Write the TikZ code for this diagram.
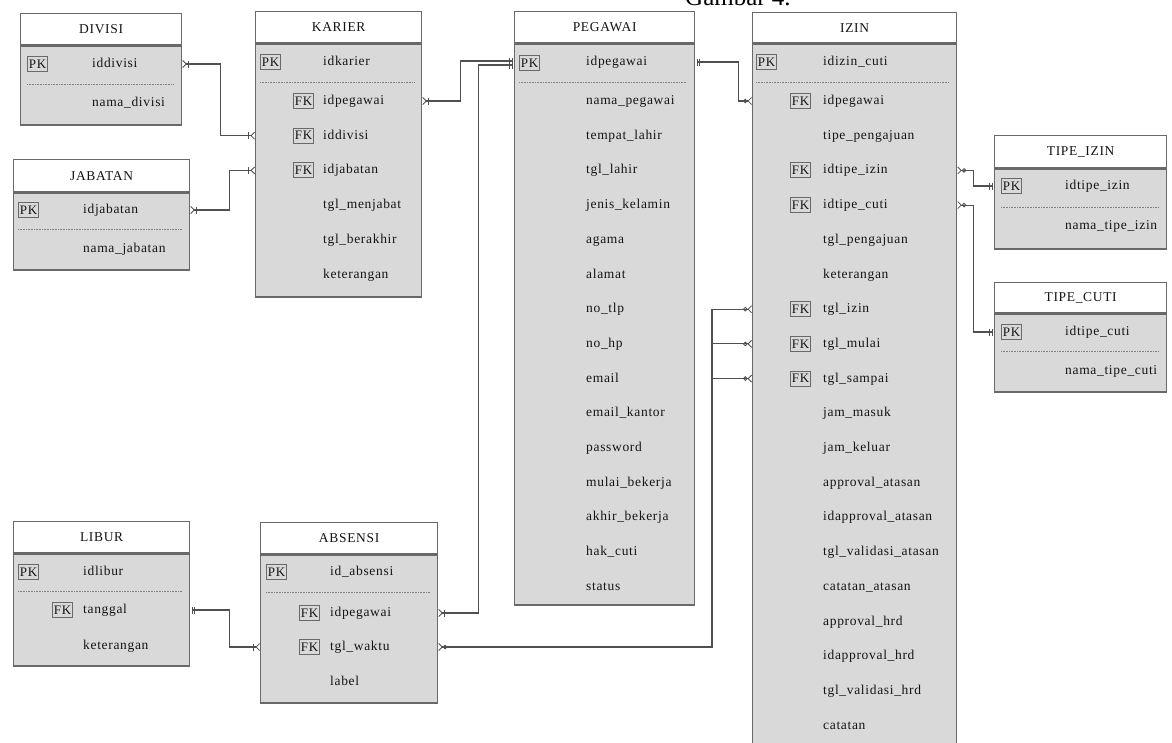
\documentclass[tikz,border=0pt]{standalone}
\usepackage{fontspec}
\setmainfont{Liberation Serif}[LetterSpace=5]
\newfontfamily\titlefont{Liberation Serif}
\usepackage{tikz}
\usetikzlibrary{arrows.meta,calc,positioning}
\definecolor{BoxGray}{RGB}{105,105,105}
\definecolor{BodyGray}{RGB}{217,217,217}
\definecolor{LineGray}{RGB}{80,80,80}
\definecolor{InkGray}{RGB}{20,20,20}
\catcode`\_=12

\tikzset{
  tblhead/.style={draw=BoxGray,line width=1.3pt,fill=white,anchor=north west,inner sep=0,
    text=InkGray,font=\fontsize{13.5}{15}\selectfont},
  tblbody/.style={draw=BoxGray,line width=1.3pt,fill=BodyGray,anchor=north west,inner sep=0},
  attr/.style={anchor=west,inner sep=0,text=InkGray,font=\fontsize{13.5}{15}\selectfont,
    text height=9.5pt,text depth=2.5pt},
  keybox/.style={draw=BoxGray,line width=.9pt,anchor=west,inner sep=1.5pt,minimum height=15pt,
    text=InkGray,font=\fontsize{13}{15}\selectfont},
  sepline/.style={draw=gray,line width=.5pt,dash pattern=on .8pt off .8pt},
  relline/.style={draw=LineGray,line width=1.1pt},
  Crow/.tip={Straight Barb[reversed,length=3.5pt,width=7pt,line width=.8pt]},
  One/.tip={Bar[width=7pt,line width=.8pt,sep=1.5pt]},
  Zero/.tip={Circle[open,length=4.5pt,width=4.5pt,line width=.8pt]},
  Dot/.tip={Circle[length=4.5pt,width=4.5pt]},
}

\begin{document}
\begin{tikzpicture}[x=1pt,y=-1pt]
  \useasboundingbox (0,0) rectangle (1172,742);
  \fill[white] (0,0) rectangle (1172,742);
  \node[font=\titlefont\fontsize{25}{27}\selectfont,anchor=base west,inner sep=0] (title) at (685,5) {Gambar 4.};

  % DIVISI
  \node[tblhead,minimum width=161,minimum height=31] (divisi) at (20,13) {DIVISI};
  \node[tblbody,minimum width=161,minimum height=79] (divisi-body) at (divisi.south west) {};
  \node[keybox] (divisi-pk) at (27,64) {PK};
  \node[attr] (divisi-iddivisi) at (92,64) {iddivisi};
  \draw[sepline] (27,84) -- (174,84);
  \node[attr] (divisi-nama_divisi) at (92,103) {nama_divisi};

  % JABATAN
  \node[tblhead,minimum width=176,minimum height=32] (jabatan) at (13,159) {JABATAN};
  \node[tblbody,minimum width=176,minimum height=77] (jabatan-body) at (jabatan.south west) {};
  \node[keybox] (jabatan-pk) at (18,210) {PK};
  \node[attr] (jabatan-idjabatan) at (83,210) {idjabatan};
  \draw[sepline] (18,229) -- (182,229);
  \node[attr] (jabatan-nama_jabatan) at (83,249) {nama_jabatan};

  % KARIER
  \node[tblhead,minimum width=166,minimum height=31] (karier) at (255,11) {KARIER};
  \node[tblbody,minimum width=166,minimum height=253] (karier-body) at (karier.south west) {};
  \node[keybox] (karier-pk) at (260,62) {PK};
  \node[attr] (karier-idkarier) at (323,62) {idkarier};
  \draw[sepline] (260,82) -- (414,82);
  \foreach \f [count=\i from 0] in {idpegawai,iddivisi,idjabatan,tgl_menjabat,tgl_berakhir,keterangan}
    \node[attr] (karier-\f) at (323,{101+34.7*\i}) {\f};
  \foreach \i in {0,1,2}
    \node[keybox] (karier-fk\i) at (293,{101+34.7*\i}) {FK};

  % PEGAWAI
  \node[tblhead,minimum width=180,minimum height=31] (pegawai) at (514,11) {PEGAWAI};
  \node[tblbody,minimum width=180,minimum height=561] (pegawai-body) at (pegawai.south west) {};
  \node[keybox] (pegawai-pk) at (519,63) {PK};
  \node[attr] (pegawai-idpegawai) at (586,62) {idpegawai};
  \draw[sepline] (519,82) -- (687,82);
  \foreach \f [count=\i from 0] in {nama_pegawai,tempat_lahir,tgl_lahir,jenis_kelamin,agama,alamat,
      no_tlp,no_hp,email,email_kantor,password,mulai_bekerja,akhir_bekerja,hak_cuti,status}
    \node[attr] (pegawai-\f) at (586,{101+34.7*\i}) {\f};

  % IZIN
  \node[tblhead,minimum width=204,minimum height=30] (izin) at (752,12) {IZIN};
  \node[tblbody,minimum width=204,minimum height=712] (izin-body) at (izin.south west) {};
  \node[keybox] (izin-pk) at (756,62) {PK};
  \node[attr] (izin-idizin_cuti) at (823,62) {idizin_cuti};
  \draw[sepline] (756,82) -- (949,82);
  \foreach \f [count=\i from 0] in {idpegawai,tipe_pengajuan,idtipe_izin,idtipe_cuti,tgl_pengajuan,
      keterangan,tgl_izin,tgl_mulai,tgl_sampai,jam_masuk,jam_keluar,approval_atasan,
      idapproval_atasan,tgl_validasi_atasan,catatan_atasan,approval_hrd,idapproval_hrd,
      tgl_validasi_hrd,catatan}
    \node[attr] (izin-\f) at (823,{101+34.7*\i}) {\f};
  \foreach \i in {0,2,3,6,7,8}
    \node[keybox] (izin-fk\i) at (790,{101+34.7*\i}) {FK};

  % TIPE_IZIN
  \node[tblhead,minimum width=172,minimum height=32] (tizin) at (994,135) {TIPE_IZIN};
  \node[tblbody,minimum width=172,minimum height=80] (tizin-body) at (tizin.south west) {};
  \node[keybox] (tizin-pk) at (1001,186) {PK};
  \node[attr] (tizin-idtipe_izin) at (1065,186) {idtipe_izin};
  \draw[sepline] (1001,207) -- (1159,207);
  \node[attr] (tizin-nama_tipe_izin) at (1065,226) {nama_tipe_izin};

  % TIPE_CUTI
  \node[tblhead,minimum width=172,minimum height=30] (tcuti) at (994,282) {TIPE_CUTI};
  \node[tblbody,minimum width=172,minimum height=78] (tcuti-body) at (tcuti.south west) {};
  \node[keybox] (tcuti-pk) at (1001,332) {PK};
  \node[attr] (tcuti-idtipe_cuti) at (1065,332) {idtipe_cuti};
  \draw[sepline] (1001,351) -- (1159,351);
  \node[attr] (tcuti-nama_tipe_cuti) at (1065,371) {nama_tipe_cuti};

  % LIBUR
  \node[tblhead,minimum width=176,minimum height=31] (libur) at (13,521) {LIBUR};
  \node[tblbody,minimum width=176,minimum height=112] (libur-body) at (libur.south west) {};
  \node[keybox] (libur-pk) at (18,572) {PK};
  \node[attr] (libur-idlibur) at (83,572) {idlibur};
  \draw[sepline] (18,591) -- (182,591);
  \node[keybox] (libur-fk) at (52,610) {FK};
  \node[attr] (libur-tanggal) at (83,610) {tanggal};
  \node[attr] (libur-keterangan) at (83,646) {keterangan};

  % ABSENSI
  \node[tblhead,minimum width=177,minimum height=31] (absensi) at (260,522) {ABSENSI};
  \node[tblbody,minimum width=177,minimum height=148] (absensi-body) at (absensi.south west) {};
  \node[keybox] (absensi-pk) at (266,572) {PK};
  \node[attr] (absensi-id_absensi) at (330,572) {id_absensi};
  \draw[sepline] (266,592) -- (430,592);
  \node[keybox] (absensi-fk0) at (299,613) {FK};
  \node[keybox] (absensi-fk1) at (299,647) {FK};
  \node[attr] (absensi-idpegawai) at (330,613) {idpegawai};
  \node[attr] (absensi-tgl_waktu) at (330,647) {tgl_waktu};
  \node[attr] (absensi-label) at (330,682) {label};

  % relasi
  \coordinate (tglbus) at (712,310);
  \draw[relline,{Crow[]One[]}-{One[]Crow[]}] (divisi-body.east |- divisi-iddivisi) -- ++(38,0)
    |- (karier-body.west |- karier-iddivisi);
  \draw[relline,{Crow[]One[]}-{One[]Crow[]}] (jabatan-body.east |- jabatan-idjabatan) -- ++(39,0)
    |- (karier-body.west |- karier-idjabatan);
  \draw[relline,{Crow[]One[]}-{One[]One[]}] (karier-body.east |- karier-idpegawai) -- ++(38,0)
    |- ([yshift=2pt]pegawai-body.west |- pegawai-pk);
  \draw[relline,{Crow[]One[]}-{One[]One[]}] (absensi-body.east |- absensi-idpegawai) -- ++(40,0)
    |- ([yshift=-2pt]pegawai-body.west |- pegawai-pk);
  \draw[relline,{One[]One[]}-{Zero[]Crow[]}] (pegawai-body.east |- pegawai-idpegawai) -- ++(43,0)
    |- (izin-body.west |- izin-idpegawai);
  \draw[relline,{Crow[]Zero[]}-{One[]One[]}] (izin-body.east |- izin-idtipe_izin) -- ++(16,0)
    |- (tizin-body.west |- tizin-idtipe_izin);
  \draw[relline,{Crow[]Zero[]}-{One[]One[]}] (izin-body.east |- izin-idtipe_cuti) -- ++(16,0)
    |- (tcuti-body.west |- tcuti-idtipe_cuti);
  \draw[relline,{Crow[]Zero[]}-{Dot[]Crow[]}] (izin-body.west |- izin-tgl_izin) -- (tglbus |- izin-tgl_izin)
    |- (absensi-body.east |- absensi-tgl_waktu);
  \draw[relline,{Crow[]Zero[]}-] (izin-body.west |- izin-tgl_mulai) -- (tglbus |- izin-tgl_mulai);
  \draw[relline,{Crow[]Zero[]}-] (izin-body.west |- izin-tgl_sampai) -- (tglbus |- izin-tgl_sampai);
  \draw[relline,{One[]One[]}-{One[]Crow[]}] (libur-body.east |- libur-tanggal) -- ++(39,0)
    |- (absensi-body.west |- absensi-tgl_waktu);
\end{tikzpicture}
\end{document}
